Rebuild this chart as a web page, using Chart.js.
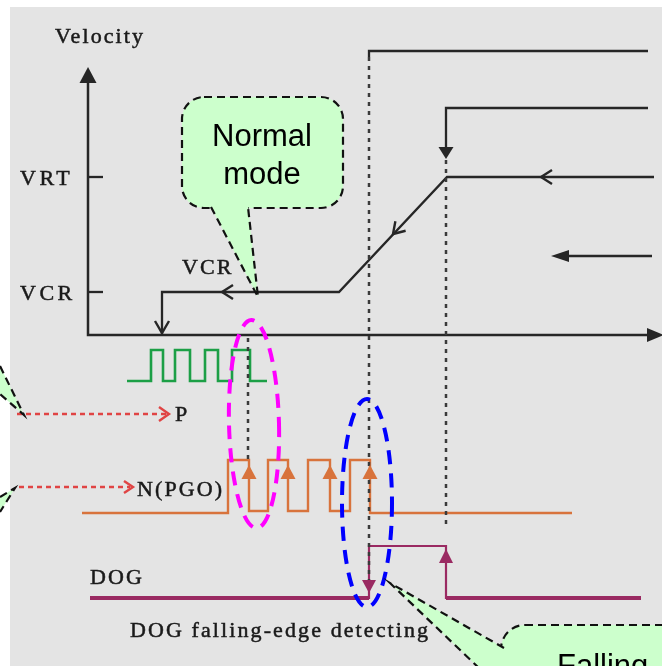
<!DOCTYPE html>
<html>
<head>
<meta charset="utf-8">
<script src="https://cdn.jsdelivr.net/npm/chart.js@4.4.0/dist/chart.umd.min.js"></script>
<style>
html, body { margin: 0; padding: 0; background: #fff; }
#wrap { width: 662px; height: 666px; }
</style>
</head>
<body>
<div id="wrap"><canvas id="diagram" width="662" height="666"></canvas></div>
<script>
// diagram units: x = time (left to right), y = level (top to bottom)
const velocityX = [654, 447, 339, 162, 162];
const velocityY = [177, 177, 292, 292, 335];
const highSpeedX = [648, 369, 369];
const highSpeedY = [51, 51, 57];
const midSpeedX = [648, 446, 446];
const midSpeedY = [108, 108, 150];
const approachX = [652, 562];
const approachY = [256, 256];

const pulsePX = [127, 151, 151, 163, 163, 175, 175, 190, 190, 205, 205, 218, 218, 232, 232, 250, 250, 267];
const pulsePY = [381, 381, 350, 350, 381, 381, 350, 350, 381, 381, 350, 350, 381, 381, 350, 350, 381, 381];
const pulseNX = [82, 228, 228, 249, 249, 268, 268, 288, 288, 308, 308, 330, 330, 350, 350, 370, 370, 572];
const pulseNY = [513, 513, 460, 460, 511, 511, 460, 460, 511, 511, 460, 460, 511, 511, 460, 460, 513, 513];
const dogX = [90, 369, 369, 446, 446, 641];
const dogY = [598, 598, 546, 546, 598, 598];

const axisX = [88, 88, 650];
const axisY = [80, 335, 335];
const tickLevels = [177, 292];
const tickLabels = ['VRT', 'VCR'];

// dotted guide lines: x, from y, to y
const guideX = [369, 446, 248];
const guideFrom = [57, 160, 338];
const guideTo = [582, 528, 460];

const pgoArrowX = [249, 288, 330, 370];

const labelText = ['Velocity', 'VCR', 'P', 'N(PGO)', 'DOG', 'DOG falling-edge detecting'];
const labelX = [55, 182, 175, 137, 90, 130];
const labelY = [43, 274, 421, 496, 584, 637];

const pts = (xs, ys) => xs.map((x, i) => ({ x: x, y: ys[i] }));

function line(data, color, width, dash) {
    return {
        data: data,
        showLine: true,
        fill: false,
        tension: 0,
        pointRadius: 0,
        borderColor: color,
        borderWidth: width,
        borderDash: dash || [],
        borderCapStyle: 'butt',
        borderJoinStyle: 'miter'
    };
}

const INK = '#262626';
const datasets = [];
guideX.forEach((x, i) => {
    datasets.push(line(pts([x, x], [guideFrom[i], guideTo[i]]), '#3a3a3a', 2.5, [4, 5]));
});
datasets.push(line(pts(axisX, axisY), INK, 2.5));
tickLevels.forEach(v => datasets.push(line(pts([88, 103], [v, v]), INK, 2.3)));
datasets.push(line(pts(velocityX, velocityY), INK, 2.3));
datasets.push(line(pts(highSpeedX, highSpeedY), INK, 2.3));
datasets.push(line(pts(midSpeedX, midSpeedY), INK, 2.3));
datasets.push(line(pts(approachX, approachY), INK, 2.3));
datasets.push(line(pts(pulsePX, pulsePY), '#1c9f46', 2.6));
datasets.push(line(pts(pulseNX, pulseNY), '#d8733c', 2.4));
datasets.push(line(pts(dogX, dogY), '#9a2a62', 2.2));
datasets.push(line(pts(dogX.slice(0, 2), dogY.slice(0, 2)), '#9a2a62', 4));
datasets.push(line(pts(dogX.slice(4), dogY.slice(4)), '#9a2a62', 4));

function head(ctx, x, y, deg, len, hw, solid, color) {
    const a = deg * Math.PI / 180;
    const bx = x - Math.cos(a) * len, by = y - Math.sin(a) * len;
    const nx = -Math.sin(a) * hw, ny = Math.cos(a) * hw;
    ctx.save();
    ctx.setLineDash([]);
    ctx.beginPath();
    if (solid) {
        ctx.moveTo(x, y);
        ctx.lineTo(bx + nx, by + ny);
        ctx.lineTo(bx - nx, by - ny);
        ctx.closePath();
        ctx.fillStyle = color;
        ctx.fill();
    } else {
        ctx.moveTo(bx + nx, by + ny);
        ctx.lineTo(x, y);
        ctx.lineTo(bx - nx, by - ny);
        ctx.strokeStyle = color;
        ctx.lineWidth = 2.4;
        ctx.stroke();
    }
    ctx.restore();
}

function pointerPath(ctx, p, close) {
    ctx.beginPath();
    ctx.moveTo(p[0][0], p[0][1]);
    ctx.lineTo(p[1][0], p[1][1]);
    ctx.lineTo(p[2][0], p[2][1]);
    if (close) ctx.closePath();
}

function callout(ctx, X, Y, box, r, pointer) {
    ctx.save();
    ctx.fillStyle = '#ccffcc';
    ctx.strokeStyle = '#111';
    ctx.lineWidth = 2.2;
    ctx.setLineDash([8, 5]);
    if (box) {
        ctx.beginPath();
        ctx.roundRect(X(box[0]), Y(box[1]), X(box[0] + box[2]) - X(box[0]), Y(box[1] + box[3]) - Y(box[1]), r);
        ctx.fill();
        ctx.stroke();
    }
    const p = pointer.map(q => [X(q[0]), Y(q[1])]);
    pointerPath(ctx, p, true);
    ctx.fill();
    pointerPath(ctx, p, false);
    ctx.stroke();
    ctx.restore();
}

const decor = {
    id: 'decor',
    beforeDraw(chart) {
        const ctx = chart.ctx, X = v => chart.scales.x.getPixelForValue(v), Y = v => chart.scales.y.getPixelForValue(v);
        ctx.save();
        ctx.fillStyle = '#ffffff';
        ctx.fillRect(0, 0, chart.width, chart.height);
        ctx.fillStyle = '#e4e4e4';
        ctx.fillRect(X(10), Y(7), X(662) - X(10), Y(666) - Y(7));
        ctx.restore();
    },
    afterDatasetsDraw(chart) {
        const ctx = chart.ctx, X = v => chart.scales.x.getPixelForValue(v), Y = v => chart.scales.y.getPixelForValue(v);

        // red dotted pointers to P and N(PGO)
        ctx.save();
        ctx.strokeStyle = '#e04444';
        ctx.lineWidth = 2.4;
        ctx.setLineDash([5, 4]);
        ctx.beginPath();
        ctx.moveTo(X(17), Y(414)); ctx.lineTo(X(166), Y(414));
        ctx.moveTo(X(19), Y(487)); ctx.lineTo(X(130), Y(487));
        ctx.stroke();
        ctx.restore();
        head(ctx, X(169), Y(414), 0, 10, 7, false, '#e04444');
        head(ctx, X(133), Y(487), 0, 9, 6, false, '#e04444');

        // arrow heads
        head(ctx, X(88), Y(67), 270, 16, 8.5, true, INK);
        head(ctx, X(664), Y(335), 0, 17, 7, true, INK);
        head(ctx, X(446), Y(159), 90, 12, 7.5, true, INK);
        head(ctx, X(551), Y(256), 180, 18, 6, true, INK);
        head(ctx, X(541), Y(177), 180, 11, 7, false, INK);
        head(ctx, X(222), Y(292), 180, 11, 7, false, INK);
        head(ctx, X(393), Y(234), 133, 11, 7, false, INK);
        head(ctx, X(162), Y(333), 90, 12, 7, false, INK);
        pgoArrowX.forEach(x => head(ctx, X(x), Y(465), 270, 14, 7.5, true, '#d8733c'));
        head(ctx, X(369), Y(593), 90, 13, 7, true, '#9a2a62');
        head(ctx, X(446), Y(549), 270, 14, 7, true, '#9a2a62');

        // texts
        ctx.save();
        ctx.fillStyle = '#1a1a1a';
        ctx.strokeStyle = '#1a1a1a';
        ctx.lineWidth = 0.5;
        ctx.font = '22px "Liberation Serif"';
        ctx.letterSpacing = '2.1px';
        ctx.textBaseline = 'alphabetic';
        labelText.forEach((t, i) => {
            ctx.fillText(t, X(labelX[i]), Y(labelY[i]));
            ctx.strokeText(t, X(labelX[i]), Y(labelY[i]));
        });
        ctx.letterSpacing = '3.5px';
        tickLabels.forEach((t, i) => {
            ctx.fillText(t, X(20), Y(tickLevels[i] + 8));
            ctx.strokeText(t, X(20), Y(tickLevels[i] + 8));
        });
        ctx.restore();

        // dashed ellipses
        ctx.save();
        ctx.lineWidth = 4;
        ctx.setLineDash([14, 9]);
        ctx.strokeStyle = '#ff00ff';
        ctx.beginPath();
        ctx.ellipse(X(254), Y(424), 25, 104, -0.025, 0, Math.PI * 2);
        ctx.stroke();
        ctx.strokeStyle = '#0000ff';
        ctx.beginPath();
        ctx.ellipse(X(367), Y(503), 25, 104, 0, 0, Math.PI * 2);
        ctx.stroke();
        ctx.restore();

        // callouts
        callout(ctx, X, Y, null, 0, [[0, 366], [24, 415], [0, 394]]);
        callout(ctx, X, Y, null, 0, [[0, 497], [15, 488], [0, 512]]);
        callout(ctx, X, Y, [182, 97, 161, 111], 22, [[211, 207], [258, 297], [248, 207]]);
        callout(ctx, X, Y, [501, 625, 220, 120], 24, [[504, 648], [390, 583], [504, 692]]);

        ctx.save();
        ctx.fillStyle = '#000';
        ctx.font = '31px "Liberation Sans"';
        ctx.textAlign = 'center';
        ctx.fillText('Normal', X(262), Y(146));
        ctx.fillText('mode', X(262), Y(184));
        ctx.textAlign = 'left';
        ctx.fillText('Falling', X(557), Y(676));
        ctx.restore();
    }
};

new Chart(document.getElementById('diagram').getContext('2d'), {
    type: 'scatter',
    data: { datasets: datasets },
    options: {
        responsive: false,
        animation: false,
        devicePixelRatio: 1,
        layout: { padding: 0 },
        scales: {
            x: { type: 'linear', min: 0, max: 662, display: false },
            y: { type: 'linear', min: 0, max: 666, reverse: true, display: false }
        },
        plugins: {
            legend: { display: false },
            tooltip: { enabled: false }
        }
    },
    plugins: [decor]
});
</script>
</body>
</html>
